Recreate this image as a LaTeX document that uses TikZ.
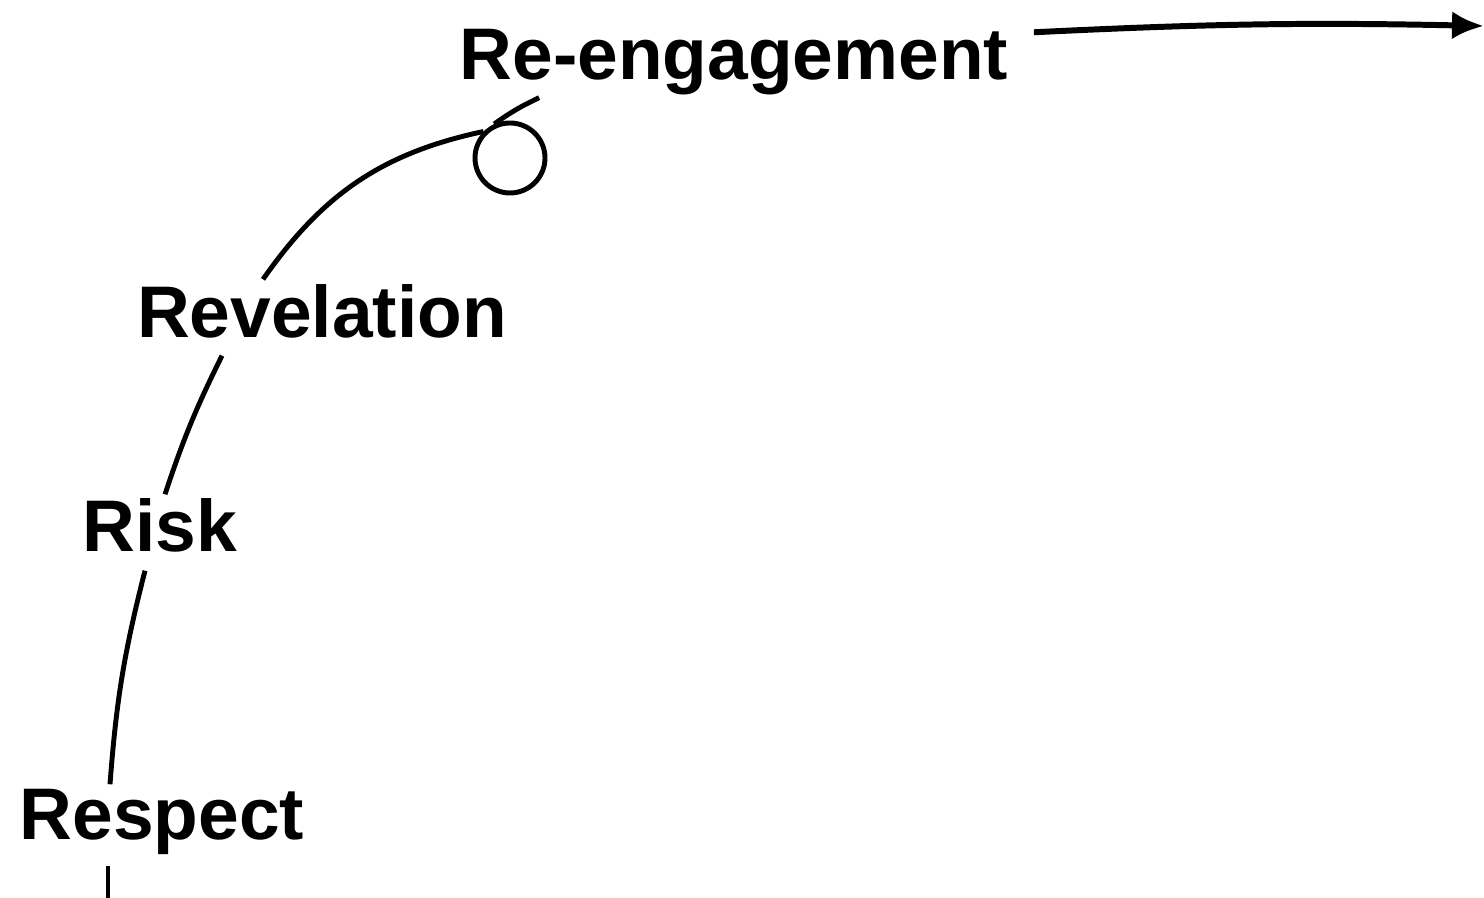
\documentclass[tikz,border=0pt]{standalone}
\usepackage{fontspec}
\setmainfont{Liberation Sans}
\usetikzlibrary{positioning, arrows.meta}

\begin{document}
\begin{tikzpicture}[
        % estilos
        stage/.style={
            font=\bfseries\fontsize{20.8}{24}\selectfont,
            inner sep=0pt,
            text height=0.53cm,
            text depth=0.15cm,
            anchor=base
        },
        knot/.style={
            draw,
            circle,
            line width=1.4pt,
            minimum size=0.70cm,
            inner sep=0pt
        },
        link/.style={line width=1.4pt}
    ]
        \useasboundingbox (0,0) rectangle (14.84,8.98);

        % Nodes
        \node[stage] (respect) at (1.62,0.58) {Respect};
        \node[stage] (risk) at (1.60,3.46) {Risk};
        \node[stage] (revelation) at (3.22,5.60) {Revelation};
        \node[stage] (reengage) at (7.34,8.18) {Re-engagement};
        \node[knot] (loop) at (5.10,7.40) {};
        \coordinate (bottom) at (1.08,0);
        \coordinate (out) at (14.84,8.72);

        % Lines
        \draw[link] (bottom) -- ([shift={(-0.54,-0.10)}]respect.south);
        \draw[link] ([shift={(-0.52,0.02)}]respect.north) to[bend left=5] ([shift={(-0.15,-0.03)}]risk.south);
        \draw[link] ([shift={(0.05,0.04)}]risk.north) to[bend left=4] ([shift={(-1.00,-0.02)}]revelation.south);
        \draw[link] ([shift={(-0.59,0.05)}]revelation.north) to[out=55,in=192] (loop.135);
        \draw[link] (loop.115) to[bend left=5] ([shift={(0.80,-0.02)}]reengage.south west);
        \draw[line width=1.7pt, -{Latex[length=3.2mm,width=2.8mm]}] ([shift={(0.25,-0.06)}]reengage.north east) to[bend left=2] (out);

\end{tikzpicture}
\end{document}
